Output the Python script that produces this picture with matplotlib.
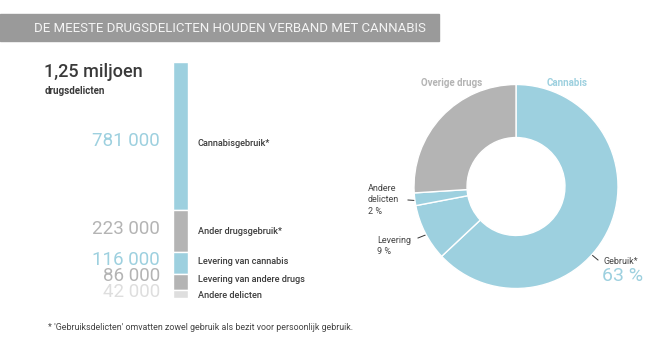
import matplotlib.pyplot as plt
from matplotlib.patches import Rectangle

plt.rcParams['font.family'] = ['Roboto', 'DejaVu Sans']

# stacked bar data (number of offences)
bar_labels = ['Cannabisgebruik*', 'Ander drugsgebruik*', 'Levering van cannabis',
              'Levering van andere drugs', 'Andere delicten']
bar_values = [781000, 223000, 116000, 86000, 42000]
bar_texts = ['781 000', '223 000', '116 000', '86 000', '42 000']
bar_colors = ['#9dd0df', '#b4b4b4', '#9dd0df', '#b4b4b4', '#dedede']

# donut data (percent)
pie_labels = ['Gebruik*', 'Levering', 'Andere delicten', 'Overige drugs']
pie_values = [63, 9, 2, 26]
pie_colors = ['#9dd0df', '#9dd0df', '#9dd0df', '#b4b4b4']

W, H = 655, 348
fig = plt.figure(figsize=(W / 100, H / 100), dpi=100)

# overlay axes in pixel coordinates for the text
ov = fig.add_axes([0, 0, 1, 1])
ov.set_xlim(0, W)
ov.set_ylim(H, 0)
ov.axis('off')

ov.add_patch(Rectangle((0, 14), 439, 27, color='#9a9a9a', zorder=0))
ov.text(230, 28, 'DE MEESTE DRUGSDELICTEN HOUDEN VERBAND MET CANNABIS',
        ha='center', va='center', color='#f4f4f4', fontsize=9.5)

ov.text(44, 72, '1,25 miljoen', fontsize=13, color='#3a3a3a', weight='medium',
        va='center', ha='left')
ov.text(45, 91, 'drugsdelicten', fontsize=7, color='#3a3a3a', weight='bold',
        va='center', ha='left')

# stacked bar
total = sum(bar_values)
bx = fig.add_axes([173 / W, (H - 298) / H, 15 / W, 236 / H])
bx.set_xlim(0, 1)
bx.set_ylim(total, 0)
bx.axis('off')
value_colors = ['#9dd0df', '#b4b4b4', '#9dd0df', '#b4b4b4', '#dedede']
bottom = 0
for val, col in zip(bar_values, bar_colors):
    bx.bar(0.5, val, bottom=bottom, width=1, color=col, edgecolor='white', linewidth=1)
    bottom += val

# value and category labels (y positions in pixels)
val_y = [141, 229, 260, 276, 292]
lab_y = [143, 232, 262, 279, 295]
for lab, txt, col, vy, ly in zip(bar_labels, bar_texts, value_colors, val_y, lab_y):
    ov.text(160, vy, txt, ha='right', va='center', fontsize=13.5, color=col)
    ov.text(198, ly, lab, ha='left', va='center', fontsize=6.6, color='#3c3c3c',
            weight='medium')

# donut
px = fig.add_axes([414 / W, (H - 288.5) / H, 204 / W, 204 / H])
px.pie(pie_values, colors=pie_colors, startangle=90, counterclock=False,
       wedgeprops=dict(width=0.52, edgecolor='white', linewidth=1))
px.set_xlim(-1, 1)
px.set_ylim(-1, 1)

ov.text(452, 83, 'Overige drugs', ha='center', va='center', fontsize=7,
        weight='bold', color='#b4b4b4')
ov.text(567, 83, 'Cannabis', ha='center', va='center', fontsize=7,
        weight='bold', color='#9dd0df')

ov.text(368, 200, 'Andere\ndelicten\n2 %', ha='left', va='center', fontsize=6.5,
        color='#444444', linespacing=1.35)
ov.plot([408, 423], [200, 201], color='#333333', lw=0.7)
ov.text(377, 246, 'Levering\n9 %', ha='left', va='center', fontsize=6.5,
        color='#444444', linespacing=1.35)
ov.plot([418, 433], [238, 232], color='#333333', lw=0.7)
ov.text(603, 262, 'Gebruik*', ha='left', va='center', fontsize=6.5, color='#444444')
ov.text(602, 276, '63 %', ha='left', va='center', fontsize=14, color='#9dd0df')
ov.plot([586, 598], [250, 260], color='#333333', lw=0.7)

ov.text(48, 328, "* 'Gebruiksdelicten' omvatten zowel gebruik als bezit voor persoonlijk gebruik.",
        ha='left', va='center', fontsize=6.4, color='#444444')

fig.savefig('out.png', dpi=100)
